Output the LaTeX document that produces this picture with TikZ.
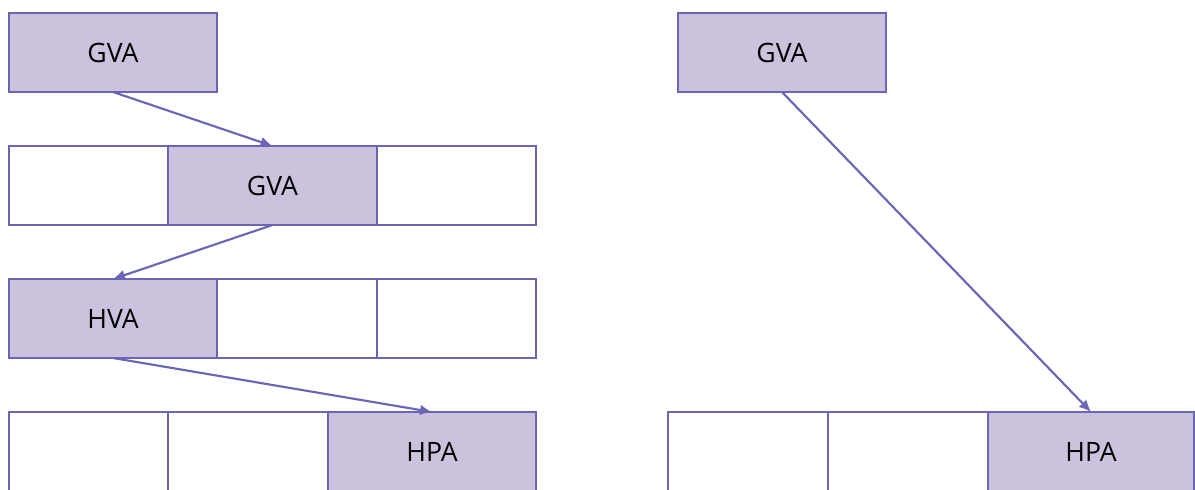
\documentclass[tikz,border=0pt]{standalone}
\usepackage{fontspec}
\setmainfont{Open Sans}
\usetikzlibrary{arrows.meta}
\definecolor{edgeblue}{HTML}{6A65B5}
\definecolor{lavender}{HTML}{CBC3DE}
\tikzset{
  cell/.style={draw=edgeblue, line width=1.3pt, inner sep=0pt, outer sep=0pt,
               minimum height=59.25pt, font=\fontsize{20}{23}\selectfont},
  used/.style={cell, fill=lavender},
  link/.style={draw=edgeblue, line width=1.6pt, -{Latex[length=9pt,width=8pt]}}
}
\begin{document}
\begin{tikzpicture}[x=0.75pt, y=-0.75pt]
\useasboundingbox (0,0) rectangle (1195,489);
% left: two-level translation
\node[used, minimum width=156pt] (g1) at (113,52.5) {GVA};

\node[cell, minimum width=119.25pt] (r2a) at (88.5,185.5) {};
\node[used, minimum width=156.75pt] (g2) at (272.5,185.5) {GVA};
\node[cell, minimum width=119.25pt] (r2c) at (456.5,185.5) {};

\node[used, minimum width=156pt] (h3) at (113,318.5) {HVA};
\node[cell, minimum width=120pt] (r3b) at (297,318.5) {};
\node[cell, minimum width=119.25pt] (r3c) at (456.5,318.5) {};

\node[cell, minimum width=119.25pt] (r4a) at (88.5,451.5) {};
\node[cell, minimum width=120pt] (r4b) at (248,451.5) {};
\node[used, minimum width=156pt] (p4) at (432,451.5) {HPA};

\draw[link] (g1.south) -- (g2.north);
\draw[link] (g2.south) -- (h3.north);
\draw[link] (h3.south) -- (p4.north);

% right: direct translation
\node[used, minimum width=156pt] (gr) at (782,52.5) {GVA};
\node[cell, minimum width=120pt] (ra) at (748,451.5) {};
\node[cell, minimum width=120pt] (rb) at (908,451.5) {};
\node[used, minimum width=154.5pt] (pr) at (1091,451.5) {HPA};

\draw[link] (gr.south) -- (pr.north);
\end{tikzpicture}
\end{document}
